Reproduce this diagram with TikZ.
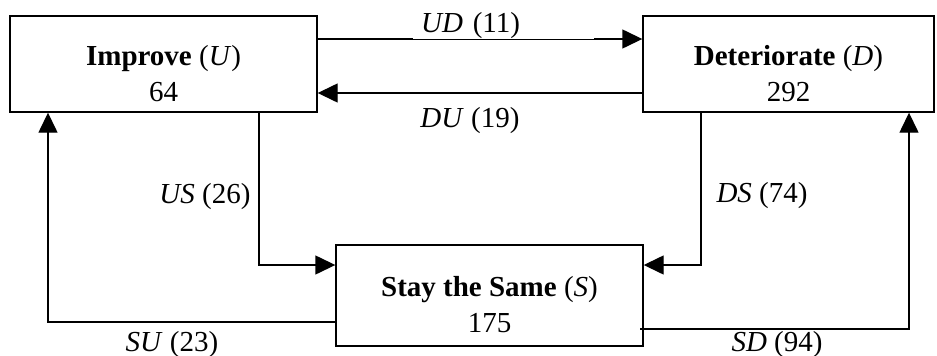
\documentclass[tikz,border=0pt]{standalone}
\usepackage{fontspec}
\setmainfont{Liberation Serif}
\usetikzlibrary{arrows.meta}
\begin{document}
\begin{tikzpicture}[x=1pt,y=-1pt,
  statebox/.style={draw,line width=1.4pt,inner sep=0pt},
  boxtext/.style={inner sep=0pt,align=center,font=\fontsize{29}{36}\selectfont},
  flow/.style={line width=1.4pt,-{Triangle[length=20pt,width=19pt]}},
  lab/.style={font=\fontsize{29}{35}\selectfont,inner sep=0pt}]
\useasboundingbox (0,0) rectangle (937,356);
\node[statebox,minimum width=307pt,minimum height=96pt] (U) at (163.5,64) {};
\node[boxtext] (tU) at ([yshift=-9.5pt]U.center) {\textbf{Improve} (\textit{U})\\64};
\node[statebox,minimum width=291pt,minimum height=96pt] (D) at (788.5,64) {};
\node[boxtext] (tD) at ([yshift=-9.5pt]D.center) {\textbf{Deteriorate} (\textit{D})\\292};
\node[statebox,minimum width=307pt,minimum height=101pt] (S) at (489.5,295.5) {};
\node[boxtext] (tS) at ([yshift=-9pt]S.center) {\textbf{Stay the Same} (\textit{S})\\175};
% U -> D
\draw[flow] (U.east |- 0,39) -- (D.west |- 0,39);
\node[lab,fill=white,anchor=south west,text width=165pt,inner xsep=8pt,align=left] (lUD) at (413,39.3) {\textit{UD} (11)};
% D -> U
\draw[flow] (D.west |- 0,93) -- (U.east |- 0,93);
\node[lab] (lDU) at (470,121) {\textit{DU} (19)};
% U -> S
\coordinate (c1) at (259,265);
\draw[flow] (U.south -| c1) -- (c1) -- (S.west |- c1);
\node[lab] (lUS) at (205,197) {\textit{US} (26)};
% S -> U
\coordinate (c2) at (48,322);
\draw[flow] (S.west |- c2) -- (c2) -- (U.south -| c2);
\node[lab] (lSU) at (172,345) {\textit{SU} (23)};
% D -> S
\coordinate (c3) at (701,265);
\draw[flow] (D.south -| c3) -- (c3) -- (S.east |- c3);
\node[lab] (lDS) at (762,196) {\textit{DS} (74)};
% S -> D
\coordinate (c4) at (909,329);
\coordinate (c5) at (640,329);
\draw[flow] (c5) -- (c4) -- (D.south -| c4);
\node[lab] (lSD) at (777,345) {\textit{SD} (94)};
\end{tikzpicture}
\end{document}
